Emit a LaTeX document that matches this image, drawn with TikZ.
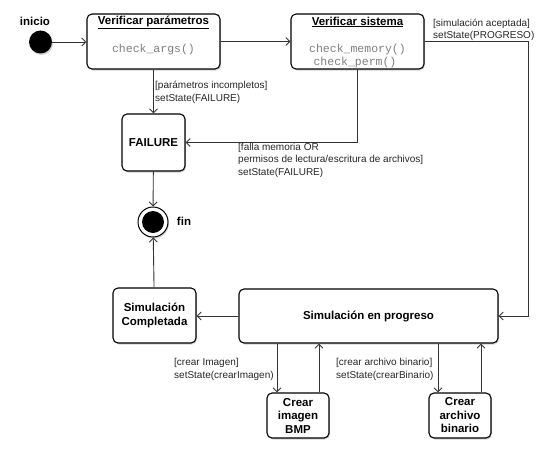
\documentclass[tikz,border=0pt]{standalone}
\usepackage{fontspec}
\setmainfont{Liberation Sans}
\setmonofont{Liberation Mono}
\usetikzlibrary{arrows.meta,shadows}
\begin{document}
\begin{tikzpicture}[x=1pt,y=-1pt,
 shad/.style={drop shadow={shadow xshift=1pt,shadow yshift=-1.5pt,opacity=0.35}},
 box/.style={draw=black, line width=1.1pt, rounded corners=5pt, fill=white, shad, font=\fontsize{11.5}{13.5}\selectfont\bfseries, align=center, inner sep=0pt},
 lab/.style={font=\fontsize{10}{12.5}\selectfont, text=black!85, align=left, anchor=west, inner sep=0pt},
 code/.style={font=\fontsize{11.5}{13}\selectfont\ttfamily, text=black!50, inner sep=0pt},
 ttl/.style={font=\fontsize{11.5}{13.5}\selectfont\bfseries, inner sep=0pt},
 arr/.style={draw=black!80, line width=0.9pt, -{Straight Barb[length=4pt,width=8pt]}}
]
\useasboundingbox (0,0) rectangle (548,452);
% start
\node[circle, fill=black, minimum size=23pt, inner sep=0pt, shad] (ini) at (40.5,42) {};
\node[ttl] (inilab) at (35,21) {inicio};
% Verificar parametros
\node[box, minimum width=133pt, minimum height=55pt] (vp) at (153.5,41.5) {};
\node[ttl] (vpt) at (153.5,22) {\underline{Verificar parámetros}};
\node[code] (vpc) at (153.5,50) {check\_args()};
% Verificar sistema
\node[box, minimum width=133pt, minimum height=55pt] (vs) at (357.5,41.5) {};
\node[ttl] (vst) at (357.5,22) {\underline{Verificar sistema}};
\node[code] (vsc1) at (357.5,50) {check\_memory()};
\node[code] (vsc2) at (355,63) {check\_perm()};
% FAILURE
\node[box, minimum width=63pt, minimum height=57pt] (fail) at (153.5,142.5) {FAILURE};
% fin
\node[circle, draw=black, line width=1pt, fill=white, minimum size=30pt, inner sep=0pt, shad] (fin) at (153,222) {};
\node[circle, fill=black, minimum size=22pt, inner sep=0pt] (finin) at (fin) {};
\node[ttl] (finlab) at (184,221) {fin};
% Simulacion completada
\node[box, minimum width=83pt, minimum height=55pt] (sc) at (154.5,315.5) {Simulación\\Completada};
% Simulacion en progreso
\node[box, minimum width=259pt, minimum height=54pt] (sep) at (368.5,316) {Simulación en progreso};
% Crear imagen / archivo
\node[box, minimum width=62pt, minimum height=45pt] (cib) at (298,415.5) {Crear\\imagen\\BMP};
\node[box, minimum width=62pt, minimum height=45pt] (cab) at (460,415.5) {Crear\\archivo\\binario};
% labels
\node[lab] (l1) at (155,92.5) {[parámetros incompletos]\\setState(FAILURE)};
\node[lab] (l2) at (433,30) {[simulación aceptada]\\setState(PROGRESO)};
\node[lab] (l3) at (238,160) {[falla memoria OR\\permisos de lectura/escritura de archivos]\\setState(FAILURE)};
\node[lab] (l4) at (174,369.5) {[crear Imagen]\\setState(crearImagen)};
\node[lab] (l5) at (336,369.5) {[crear archivo binario]\\setState(crearBinario)};
% connectors
\draw[arr] (ini.east) -- (vp.west |- ini.east);
\draw[arr] (vp) -- (vs);
\draw[arr] (vp) -- (fail);
\draw[arr] (vs.south) |- (fail.east);
\draw[arr] (vs.east) -- ++(104,0) |- (sep.east);
\draw[arr] (fail) -- (fin);
\draw[arr] (sc) -- (fin);
\draw[arr] (sep.west) -- (sc.east |- sep.west);
\coordinate (a1) at ([xshift=-21pt]cib.north);
\coordinate (a2) at ([xshift=21pt]cib.north);
\coordinate (b1) at ([xshift=-22pt]cab.north);
\coordinate (b2) at ([xshift=21pt]cab.north);
\draw[arr] (sep.south -| a1) -- (a1);
\draw[arr] (a2) -- (sep.south -| a2);
\draw[arr] (sep.south -| b1) -- (b1);
\draw[arr] (b2) -- (sep.south -| b2);
\end{tikzpicture}
\end{document}
